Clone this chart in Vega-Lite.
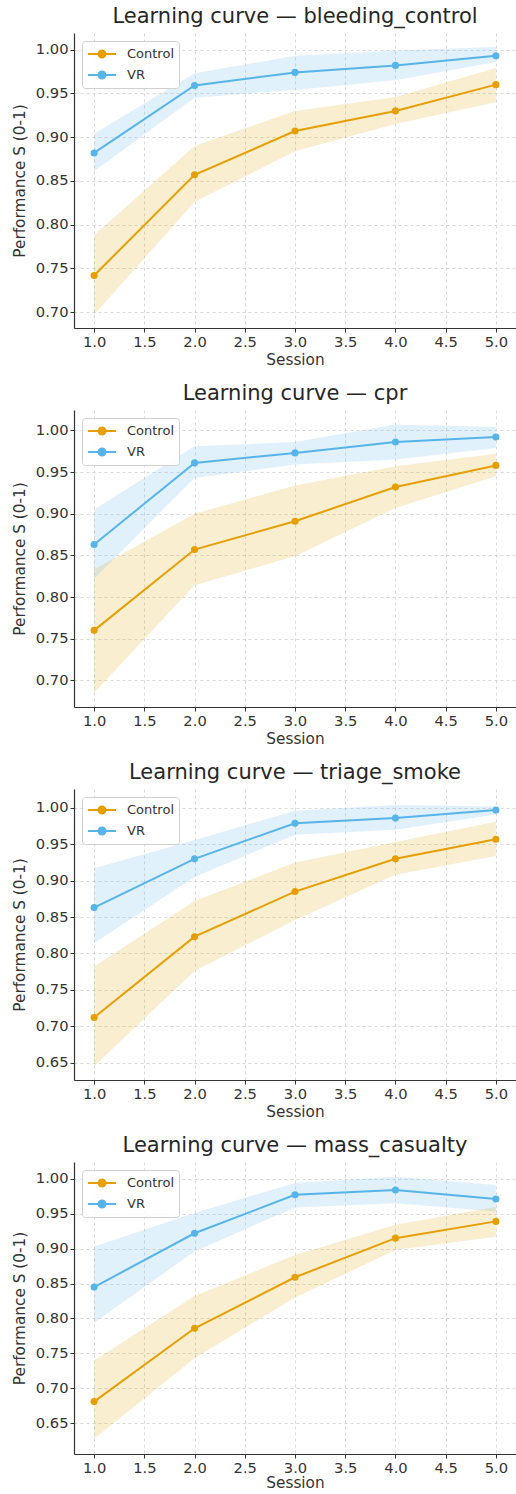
{
  "$schema": "https://vega.github.io/schema/vega-lite/v6.json",
  "padding": {"left": 12, "top": 6, "right": 0, "bottom": 0},
  "background": "white",
  "data": {"values": [
    {"scenario": "bleeding_control", "group": "Control", "session": 1, "mean": 0.742, "lo": 0.697, "hi": 0.788},
    {"scenario": "bleeding_control", "group": "Control", "session": 2, "mean": 0.857, "lo": 0.826, "hi": 0.890},
    {"scenario": "bleeding_control", "group": "Control", "session": 3, "mean": 0.907, "lo": 0.884, "hi": 0.930},
    {"scenario": "bleeding_control", "group": "Control", "session": 4, "mean": 0.930, "lo": 0.915, "hi": 0.946},
    {"scenario": "bleeding_control", "group": "Control", "session": 5, "mean": 0.960, "lo": 0.940, "hi": 0.979},
    {"scenario": "bleeding_control", "group": "VR", "session": 1, "mean": 0.882, "lo": 0.861, "hi": 0.904},
    {"scenario": "bleeding_control", "group": "VR", "session": 2, "mean": 0.959, "lo": 0.945, "hi": 0.973},
    {"scenario": "bleeding_control", "group": "VR", "session": 3, "mean": 0.974, "lo": 0.954, "hi": 0.993},
    {"scenario": "bleeding_control", "group": "VR", "session": 4, "mean": 0.982, "lo": 0.965, "hi": 0.999},
    {"scenario": "bleeding_control", "group": "VR", "session": 5, "mean": 0.993, "lo": 0.986, "hi": 1.003},
    {"scenario": "cpr", "group": "Control", "session": 1, "mean": 0.760, "lo": 0.685, "hi": 0.833},
    {"scenario": "cpr", "group": "Control", "session": 2, "mean": 0.857, "lo": 0.814, "hi": 0.900},
    {"scenario": "cpr", "group": "Control", "session": 3, "mean": 0.891, "lo": 0.849, "hi": 0.934},
    {"scenario": "cpr", "group": "Control", "session": 4, "mean": 0.932, "lo": 0.907, "hi": 0.957},
    {"scenario": "cpr", "group": "Control", "session": 5, "mean": 0.958, "lo": 0.945, "hi": 0.972},
    {"scenario": "cpr", "group": "VR", "session": 1, "mean": 0.863, "lo": 0.822, "hi": 0.905},
    {"scenario": "cpr", "group": "VR", "session": 2, "mean": 0.961, "lo": 0.943, "hi": 0.981},
    {"scenario": "cpr", "group": "VR", "session": 3, "mean": 0.973, "lo": 0.959, "hi": 0.986},
    {"scenario": "cpr", "group": "VR", "session": 4, "mean": 0.986, "lo": 0.965, "hi": 1.007},
    {"scenario": "cpr", "group": "VR", "session": 5, "mean": 0.992, "lo": 0.979, "hi": 1.004},
    {"scenario": "triage_smoke", "group": "Control", "session": 1, "mean": 0.712, "lo": 0.645, "hi": 0.782},
    {"scenario": "triage_smoke", "group": "Control", "session": 2, "mean": 0.823, "lo": 0.776, "hi": 0.872},
    {"scenario": "triage_smoke", "group": "Control", "session": 3, "mean": 0.885, "lo": 0.846, "hi": 0.925},
    {"scenario": "triage_smoke", "group": "Control", "session": 4, "mean": 0.930, "lo": 0.908, "hi": 0.953},
    {"scenario": "triage_smoke", "group": "Control", "session": 5, "mean": 0.957, "lo": 0.934, "hi": 0.981},
    {"scenario": "triage_smoke", "group": "VR", "session": 1, "mean": 0.863, "lo": 0.814, "hi": 0.917},
    {"scenario": "triage_smoke", "group": "VR", "session": 2, "mean": 0.930, "lo": 0.905, "hi": 0.956},
    {"scenario": "triage_smoke", "group": "VR", "session": 3, "mean": 0.979, "lo": 0.963, "hi": 0.996},
    {"scenario": "triage_smoke", "group": "VR", "session": 4, "mean": 0.986, "lo": 0.970, "hi": 1.004},
    {"scenario": "triage_smoke", "group": "VR", "session": 5, "mean": 0.997, "lo": 0.991, "hi": 1.002},
    {"scenario": "mass_casualty", "group": "Control", "session": 1, "mean": 0.681, "lo": 0.628, "hi": 0.740},
    {"scenario": "mass_casualty", "group": "Control", "session": 2, "mean": 0.786, "lo": 0.743, "hi": 0.832},
    {"scenario": "mass_casualty", "group": "Control", "session": 3, "mean": 0.859, "lo": 0.830, "hi": 0.891},
    {"scenario": "mass_casualty", "group": "Control", "session": 4, "mean": 0.915, "lo": 0.898, "hi": 0.934},
    {"scenario": "mass_casualty", "group": "Control", "session": 5, "mean": 0.939, "lo": 0.917, "hi": 0.960},
    {"scenario": "mass_casualty", "group": "VR", "session": 1, "mean": 0.845, "lo": 0.794, "hi": 0.903},
    {"scenario": "mass_casualty", "group": "VR", "session": 2, "mean": 0.922, "lo": 0.896, "hi": 0.951},
    {"scenario": "mass_casualty", "group": "VR", "session": 3, "mean": 0.977, "lo": 0.959, "hi": 0.994},
    {"scenario": "mass_casualty", "group": "VR", "session": 4, "mean": 0.984, "lo": 0.965, "hi": 1.003},
    {"scenario": "mass_casualty", "group": "VR", "session": 5, "mean": 0.971, "lo": 0.953, "hi": 0.991}
  ]},
  "spacing": 15,
  "resolve": {"legend": {"color": "independent"}},
  "vconcat": [
    {
      "width": 442, "height": 295,
      "title": "Learning curve — bleeding_control",
      "transform": [{"filter": "datum.scenario === 'bleeding_control'"}],
      "encoding": {"x": {"field": "session", "type": "quantitative", "title": "Session", "scale": {"domain": [0.8, 5.2], "nice": false, "zero": false}, "axis": {"values": [1, 1.5, 2, 2.5, 3, 3.5, 4, 4.5, 5], "format": ".1f"}}},
      "layer": [
        {"mark": {"type": "area", "opacity": 0.18}, "encoding": {"y": {"field": "lo", "type": "quantitative", "title": "Performance S (0-1)", "scale": {"domain": [0.682, 1.019], "nice": false, "zero": false}, "axis": {"values": [0.7, 0.75, 0.8, 0.85, 0.9, 0.95, 1.0], "format": ".2f"}}, "y2": {"field": "hi"}, "fill": {"field": "group", "type": "nominal", "scale": {"domain": ["Control", "VR"], "range": ["#E69F00", "#56B4E9"]}, "legend": null}}},
        {"mark": {"type": "line", "strokeWidth": 2}, "encoding": {"y": {"field": "mean", "type": "quantitative", "title": "Performance S (0-1)"}, "color": {"field": "group", "type": "nominal", "scale": {"domain": ["Control", "VR"], "range": ["#E69F00", "#56B4E9"]}, "legend": {"title": null}}}},
        {"mark": {"type": "point", "filled": true, "size": 50, "opacity": 1}, "encoding": {"y": {"field": "mean", "type": "quantitative", "title": "Performance S (0-1)"}, "color": {"field": "group", "type": "nominal", "legend": null}}}
      ]
    },
    {
      "width": 442, "height": 297,
      "title": "Learning curve — cpr",
      "transform": [{"filter": "datum.scenario === 'cpr'"}],
      "encoding": {"x": {"field": "session", "type": "quantitative", "title": "Session", "scale": {"domain": [0.8, 5.2], "nice": false, "zero": false}, "axis": {"values": [1, 1.5, 2, 2.5, 3, 3.5, 4, 4.5, 5], "format": ".1f"}}},
      "layer": [
        {"mark": {"type": "area", "opacity": 0.18}, "encoding": {"y": {"field": "lo", "type": "quantitative", "title": "Performance S (0-1)", "scale": {"domain": [0.668, 1.0245], "nice": false, "zero": false}, "axis": {"values": [0.7, 0.75, 0.8, 0.85, 0.9, 0.95, 1.0], "format": ".2f"}}, "y2": {"field": "hi"}, "fill": {"field": "group", "type": "nominal", "scale": {"domain": ["Control", "VR"], "range": ["#E69F00", "#56B4E9"]}, "legend": null}}},
        {"mark": {"type": "line", "strokeWidth": 2}, "encoding": {"y": {"field": "mean", "type": "quantitative", "title": "Performance S (0-1)"}, "color": {"field": "group", "type": "nominal", "scale": {"domain": ["Control", "VR"], "range": ["#E69F00", "#56B4E9"]}, "legend": {"title": null}}}},
        {"mark": {"type": "point", "filled": true, "size": 50, "opacity": 1}, "encoding": {"y": {"field": "mean", "type": "quantitative", "title": "Performance S (0-1)"}, "color": {"field": "group", "type": "nominal", "legend": null}}}
      ]
    },
    {
      "width": 442, "height": 291,
      "title": "Learning curve — triage_smoke",
      "transform": [{"filter": "datum.scenario === 'triage_smoke'"}],
      "encoding": {"x": {"field": "session", "type": "quantitative", "title": "Session", "scale": {"domain": [0.8, 5.2], "nice": false, "zero": false}, "axis": {"values": [1, 1.5, 2, 2.5, 3, 3.5, 4, 4.5, 5], "format": ".1f"}}},
      "layer": [
        {"mark": {"type": "area", "opacity": 0.18}, "encoding": {"y": {"field": "lo", "type": "quantitative", "title": "Performance S (0-1)", "scale": {"domain": [0.626, 1.026], "nice": false, "zero": false}, "axis": {"values": [0.65, 0.7, 0.75, 0.8, 0.85, 0.9, 0.95, 1.0], "format": ".2f"}}, "y2": {"field": "hi"}, "fill": {"field": "group", "type": "nominal", "scale": {"domain": ["Control", "VR"], "range": ["#E69F00", "#56B4E9"]}, "legend": null}}},
        {"mark": {"type": "line", "strokeWidth": 2}, "encoding": {"y": {"field": "mean", "type": "quantitative", "title": "Performance S (0-1)"}, "color": {"field": "group", "type": "nominal", "scale": {"domain": ["Control", "VR"], "range": ["#E69F00", "#56B4E9"]}, "legend": {"title": null}}}},
        {"mark": {"type": "point", "filled": true, "size": 50, "opacity": 1}, "encoding": {"y": {"field": "mean", "type": "quantitative", "title": "Performance S (0-1)"}, "color": {"field": "group", "type": "nominal", "legend": null}}}
      ]
    },
    {
      "width": 442, "height": 292,
      "title": "Learning curve — mass_casualty",
      "transform": [{"filter": "datum.scenario === 'mass_casualty'"}],
      "encoding": {"x": {"field": "session", "type": "quantitative", "title": "Session", "scale": {"domain": [0.8, 5.2], "nice": false, "zero": false}, "axis": {"values": [1, 1.5, 2, 2.5, 3, 3.5, 4, 4.5, 5], "format": ".1f", "titlePadding": 1}}},
      "layer": [
        {"mark": {"type": "area", "opacity": 0.18}, "encoding": {"y": {"field": "lo", "type": "quantitative", "title": "Performance S (0-1)", "scale": {"domain": [0.606, 1.024], "nice": false, "zero": false}, "axis": {"values": [0.65, 0.7, 0.75, 0.8, 0.85, 0.9, 0.95, 1.0], "format": ".2f"}}, "y2": {"field": "hi"}, "fill": {"field": "group", "type": "nominal", "scale": {"domain": ["Control", "VR"], "range": ["#E69F00", "#56B4E9"]}, "legend": null}}},
        {"mark": {"type": "line", "strokeWidth": 2}, "encoding": {"y": {"field": "mean", "type": "quantitative", "title": "Performance S (0-1)"}, "color": {"field": "group", "type": "nominal", "scale": {"domain": ["Control", "VR"], "range": ["#E69F00", "#56B4E9"]}, "legend": {"title": null}}}},
        {"mark": {"type": "point", "filled": true, "size": 50, "opacity": 1}, "encoding": {"y": {"field": "mean", "type": "quantitative", "title": "Performance S (0-1)"}, "color": {"field": "group", "type": "nominal", "legend": null}}}
      ]
    }
  ],
  "config": {
    "view": {"stroke": null},
    "font": "DejaVu Sans",
    "title": {"fontSize": 21, "fontWeight": "normal", "color": "#262626", "baseline": "alphabetic", "offset": 6, "anchor": "middle"},
    "axis": {"labelFontSize": 14.7, "titleFontSize": 15.3, "titleFontWeight": "normal", "labelColor": "#333333", "titleColor": "#333333", "domainColor": "#333333", "domainWidth": 1.2, "tickColor": "#333333", "tickSize": 4, "tickWidth": 1, "gridColor": "#cfcfcf", "gridDash": [3, 3], "gridWidth": 0.8, "labelPadding": 2, "labelFlush": false, "labelOverlap": false},
    "axisX": {"titlePadding": 4},
    "axisY": {"titlePadding": 8},
    "legend": {
      "orient": "top-left", "offset": 8, "padding": 5, "rowPadding": 5,
      "fillColor": "rgba(255,255,255,0.85)", "strokeColor": "#d0d0d0", "cornerRadius": 3,
      "labelFontSize": 13, "labelColor": "#333333", "labelOffset": 24,
      "symbolType": "M-1,0L3,0M1.5,0A0.5,0.5,0,1,1,0.5,0A0.5,0.5,0,1,1,1.5,0Z",
      "symbolSize": 196, "symbolStrokeWidth": 2
    }
  }
}
